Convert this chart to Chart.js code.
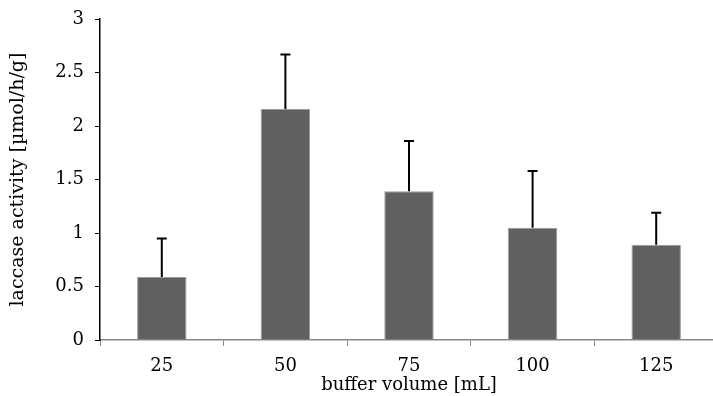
<!DOCTYPE html>
<html>
<head>
<meta charset="utf-8">
<script src="https://cdn.jsdelivr.net/npm/chart.js@4/dist/chart.umd.min.js"></script>
<style>
  html, body { margin: 0; padding: 0; background: #fff; overflow: hidden; }
  #wrap { width: 720px; height: 396px; }
</style>
</head>
<body>
<div id="wrap"><canvas id="grafico" width="720" height="396"></canvas></div>
<script>
var volumes = ['25', '50', '75', '100', '125'];
var atividade = [0.59, 2.16, 1.39, 1.05, 0.89];
var erroTopo = [0.95, 2.67, 1.86, 1.58, 1.19];
var ticksY = [0, 0.5, 1, 1.5, 2, 2.5, 3];

var corBarra = '#606060';
var fonte = 'DejaVu Serif';

// barras de erro (só para cima)
const barrasErro = {
    id: 'barrasErro',
    afterDatasetsDraw: (chart) => {
        const ctx = chart.ctx;
        const y = chart.scales.y;
        chart.getDatasetMeta(0).data.forEach((bar, i) => {
            let topo = y.getPixelForValue(erroTopo[i]);
            ctx.save();
            ctx.strokeStyle = '#000';
            ctx.lineWidth = 2;
            ctx.beginPath();
            ctx.moveTo(bar.x, bar.y);
            ctx.lineTo(bar.x, topo);
            ctx.moveTo(bar.x - 5, topo);
            ctx.lineTo(bar.x + 5, topo);
            ctx.stroke();
            ctx.restore();
        });
    }
};

let chart = new Chart(document.getElementById('grafico').getContext('2d'), {
    type: 'bar',
    data: {
        labels: volumes,
        datasets: [{
            data: atividade,
            backgroundColor: corBarra,
            borderColor: '#9c9c9c',
            borderWidth: 1,
            barPercentage: 0.4,
            categoryPercentage: 1
        }]
    },
    plugins: [barrasErro],
    options: {
        responsive: false,
        animation: false,
        layout: { padding: { top: 19, right: 2 } },
        plugins: { legend: { display: false }, tooltip: { enabled: false } },
        scales: {
            x: {
                grid: { drawOnChartArea: false, tickLength: 6, color: '#888', offset: true },
                border: { color: '#888', width: 1.5 },
                ticks: { color: '#000', padding: 10, font: { family: fonte, size: 18 } },
                title: {
                    display: true, text: 'buffer volume [mL]', color: '#000',
                    padding: { top: 0, bottom: 0 },
                    font: { family: fonte, size: 18 }
                },
                afterFit: (s) => { s.height = 56; }
            },
            y: {
                min: 0, max: 3,
                afterBuildTicks: (s) => { s.ticks = ticksY.map(v => ({ value: v })); },
                grid: { drawOnChartArea: false, tickLength: 5, color: '#000' },
                border: { color: '#000', width: 1.5 },
                ticks: {
                    color: '#000', padding: 11, font: { family: fonte, size: 18, lineHeight: 0.9 },
                    callback: (v) => String(v)
                },
                title: {
                    display: true, text: 'laccase activity [µmol/h/g]', color: '#000',
                    padding: { top: 7, bottom: 0 },
                    font: { family: fonte, size: 19 }
                },
                afterFit: (s) => { s.width = 100; }
            }
        }
    }
});
</script>
</body>
</html>
